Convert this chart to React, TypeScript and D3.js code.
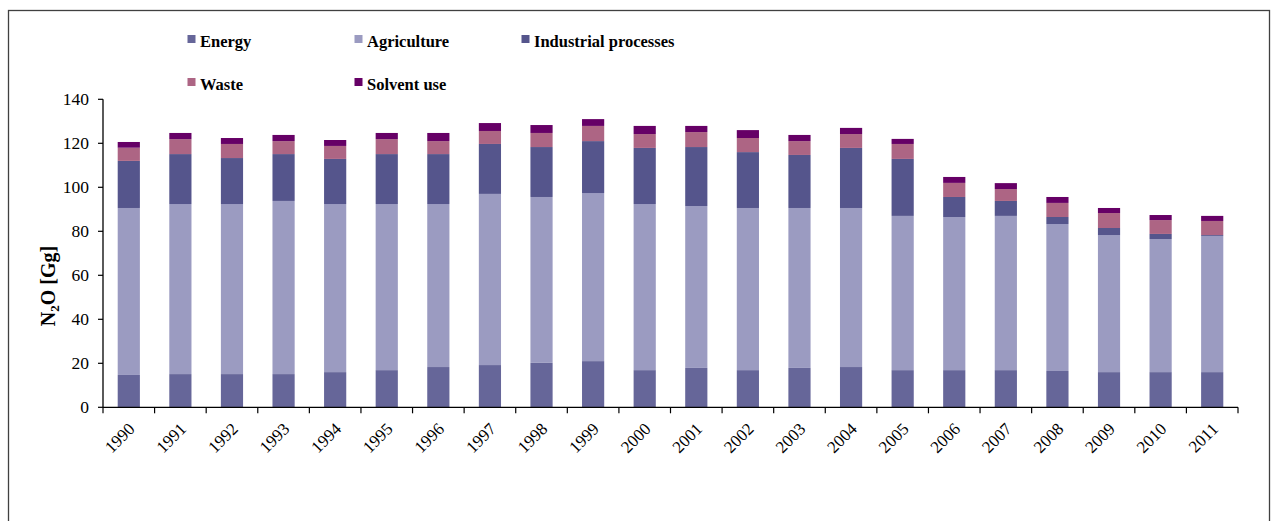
import React from "react";
import * as d3 from "d3";

const years = ["1990","1991","1992","1993","1994","1995","1996","1997","1998","1999","2000","2001","2002","2003","2004","2005","2006","2007","2008","2009","2010","2011"];
const energy = [14.7,15.1,15.1,15.1,16.0,16.9,18.3,19.2,20.2,21.0,16.9,17.9,16.9,17.9,18.3,16.9,16.9,16.9,16.5,16.0,16.0,16.0];
const agriculture = [75.9,77.3,77.3,78.7,76.4,75.5,74.1,77.8,75.4,76.4,75.5,73.6,73.7,72.7,72.3,70.1,69.6,70.1,66.8,62.3,60.5,61.9];
const industrial = [21.4,22.7,20.9,21.3,20.5,22.7,22.7,22.7,22.7,23.6,25.5,26.8,25.4,24.1,27.3,25.9,9.1,6.8,3.2,3.2,2.3,0.4];
const waste = [6.0,6.8,6.4,5.9,5.9,6.8,5.9,5.9,6.4,6.9,6.3,6.8,6.4,6.3,6.3,6.8,6.4,5.4,6.4,6.8,6.3,6.4];
const solvent = [2.6,2.8,2.7,2.8,2.7,2.8,3.7,3.6,3.6,3.1,3.7,2.8,3.6,2.8,2.8,2.3,2.7,2.7,2.7,2.3,2.3,2.3];
const seriesNames = ["Energy","Agriculture","Industrial processes","Waste","Solvent use"];
const yTicks = [0,20,40,60,80,100,120,140];

const colors = ["#666699","#9b9bc1","#55558c","#ad6584","#660066"];

export default function App() {
  const W = 1277, H = 521;
  const x0 = 103, x1 = 1238;
  const yBottom = 407.3, yTop = 99.3;
  const x = d3.scaleBand<string>().domain(years).range([x0, x1]).paddingInner(0.57).paddingOuter(0.285);
  const y = d3.scaleLinear().domain([0, 140]).range([yBottom, yTop]);
  const step = x.step();
  const data = [energy, agriculture, industrial, waste, solvent];
  const table = years.map((yr, i) => {
    const o: any = { year: yr };
    seriesNames.forEach((s, k) => (o[s] = data[k][i]));
    return o;
  });
  const stack = d3.stack<any>().keys(seriesNames)(table);
  const font = '"Liberation Serif", "Times New Roman", Times, serif';

  const legendPos = [
    { x: 187.5, y: 35 },
    { x: 354.5, y: 35 },
    { x: 521.5, y: 35 },
    { x: 187.5, y: 78 },
    { x: 354.5, y: 78 },
  ];

  return (
    <svg width={W} height={H} style={{ position: "absolute", left: 0, top: 0, background: "#fff", fontFamily: font }}>
      <rect x={8.5} y={10.5} width={1261} height={520} fill="none" stroke="#404040" strokeWidth={1.3} />
      {/* legend */}
      {seriesNames.map((s, k) => (
        <g key={s}>
          <rect x={legendPos[k].x} y={legendPos[k].y} width={8} height={8} fill={colors[k]} />
          <text x={legendPos[k].x + 12.5} y={legendPos[k].y + 11.5} fontSize={16.5} fontWeight="bold" fill="#000" style={{ fontFamily: font }}>{s}</text>
        </g>
      ))}
      {/* bars */}
      {stack.map((layer, k) => (
        <g key={k} fill={colors[k]}>
          {layer.map((d, i) => (
            <rect key={i} x={x(years[i])} width={x.bandwidth()} y={y(d[1])} height={y(d[0]) - y(d[1])} />
          ))}
        </g>
      ))}
      {/* y axis */}
      <line x1={x0} x2={x0} y1={yTop} y2={yBottom} stroke="#000" strokeWidth={1.3} />
      {yTicks.map((t) => (
        <g key={t}>
          <line x1={x0 - 5} x2={x0} y1={y(t)} y2={y(t)} stroke="#000" strokeWidth={1.2} />
          <text x={89} y={y(t) + 6} fontSize={17.5} textAnchor="end" fill="#000" style={{ fontFamily: font }}>{t}</text>
        </g>
      ))}
      {/* x axis */}
      <line x1={x0} x2={x1} y1={yBottom} y2={yBottom} stroke="#000" strokeWidth={1.3} />
      {d3.range(years.length + 1).map((i) => (
        <line key={i} x1={x0 + i * step} x2={x0 + i * step} y1={yBottom} y2={yBottom + 6} stroke="#000" strokeWidth={1.2} />
      ))}
      {years.map((yr) => {
        const cx = (x(yr) as number) + x.bandwidth() / 2 + 7;
        const cy = 430;
        return (
          <text key={yr} x={cx} y={cy} fontSize={17} textAnchor="end" transform={`rotate(-45 ${cx} ${cy})`} fill="#000" style={{ fontFamily: font }}>{yr}</text>
        );
      })}
      {/* y title */}
      <text transform={`translate(55 ${286}) rotate(-90)`} textAnchor="middle" fontSize={20} fontWeight="bold" fill="#000" style={{ fontFamily: font }}>
        N<tspan fontSize={13} dy={4}>2</tspan><tspan dy={-4}>O [Gg]</tspan>
      </text>
    </svg>
  );
}
